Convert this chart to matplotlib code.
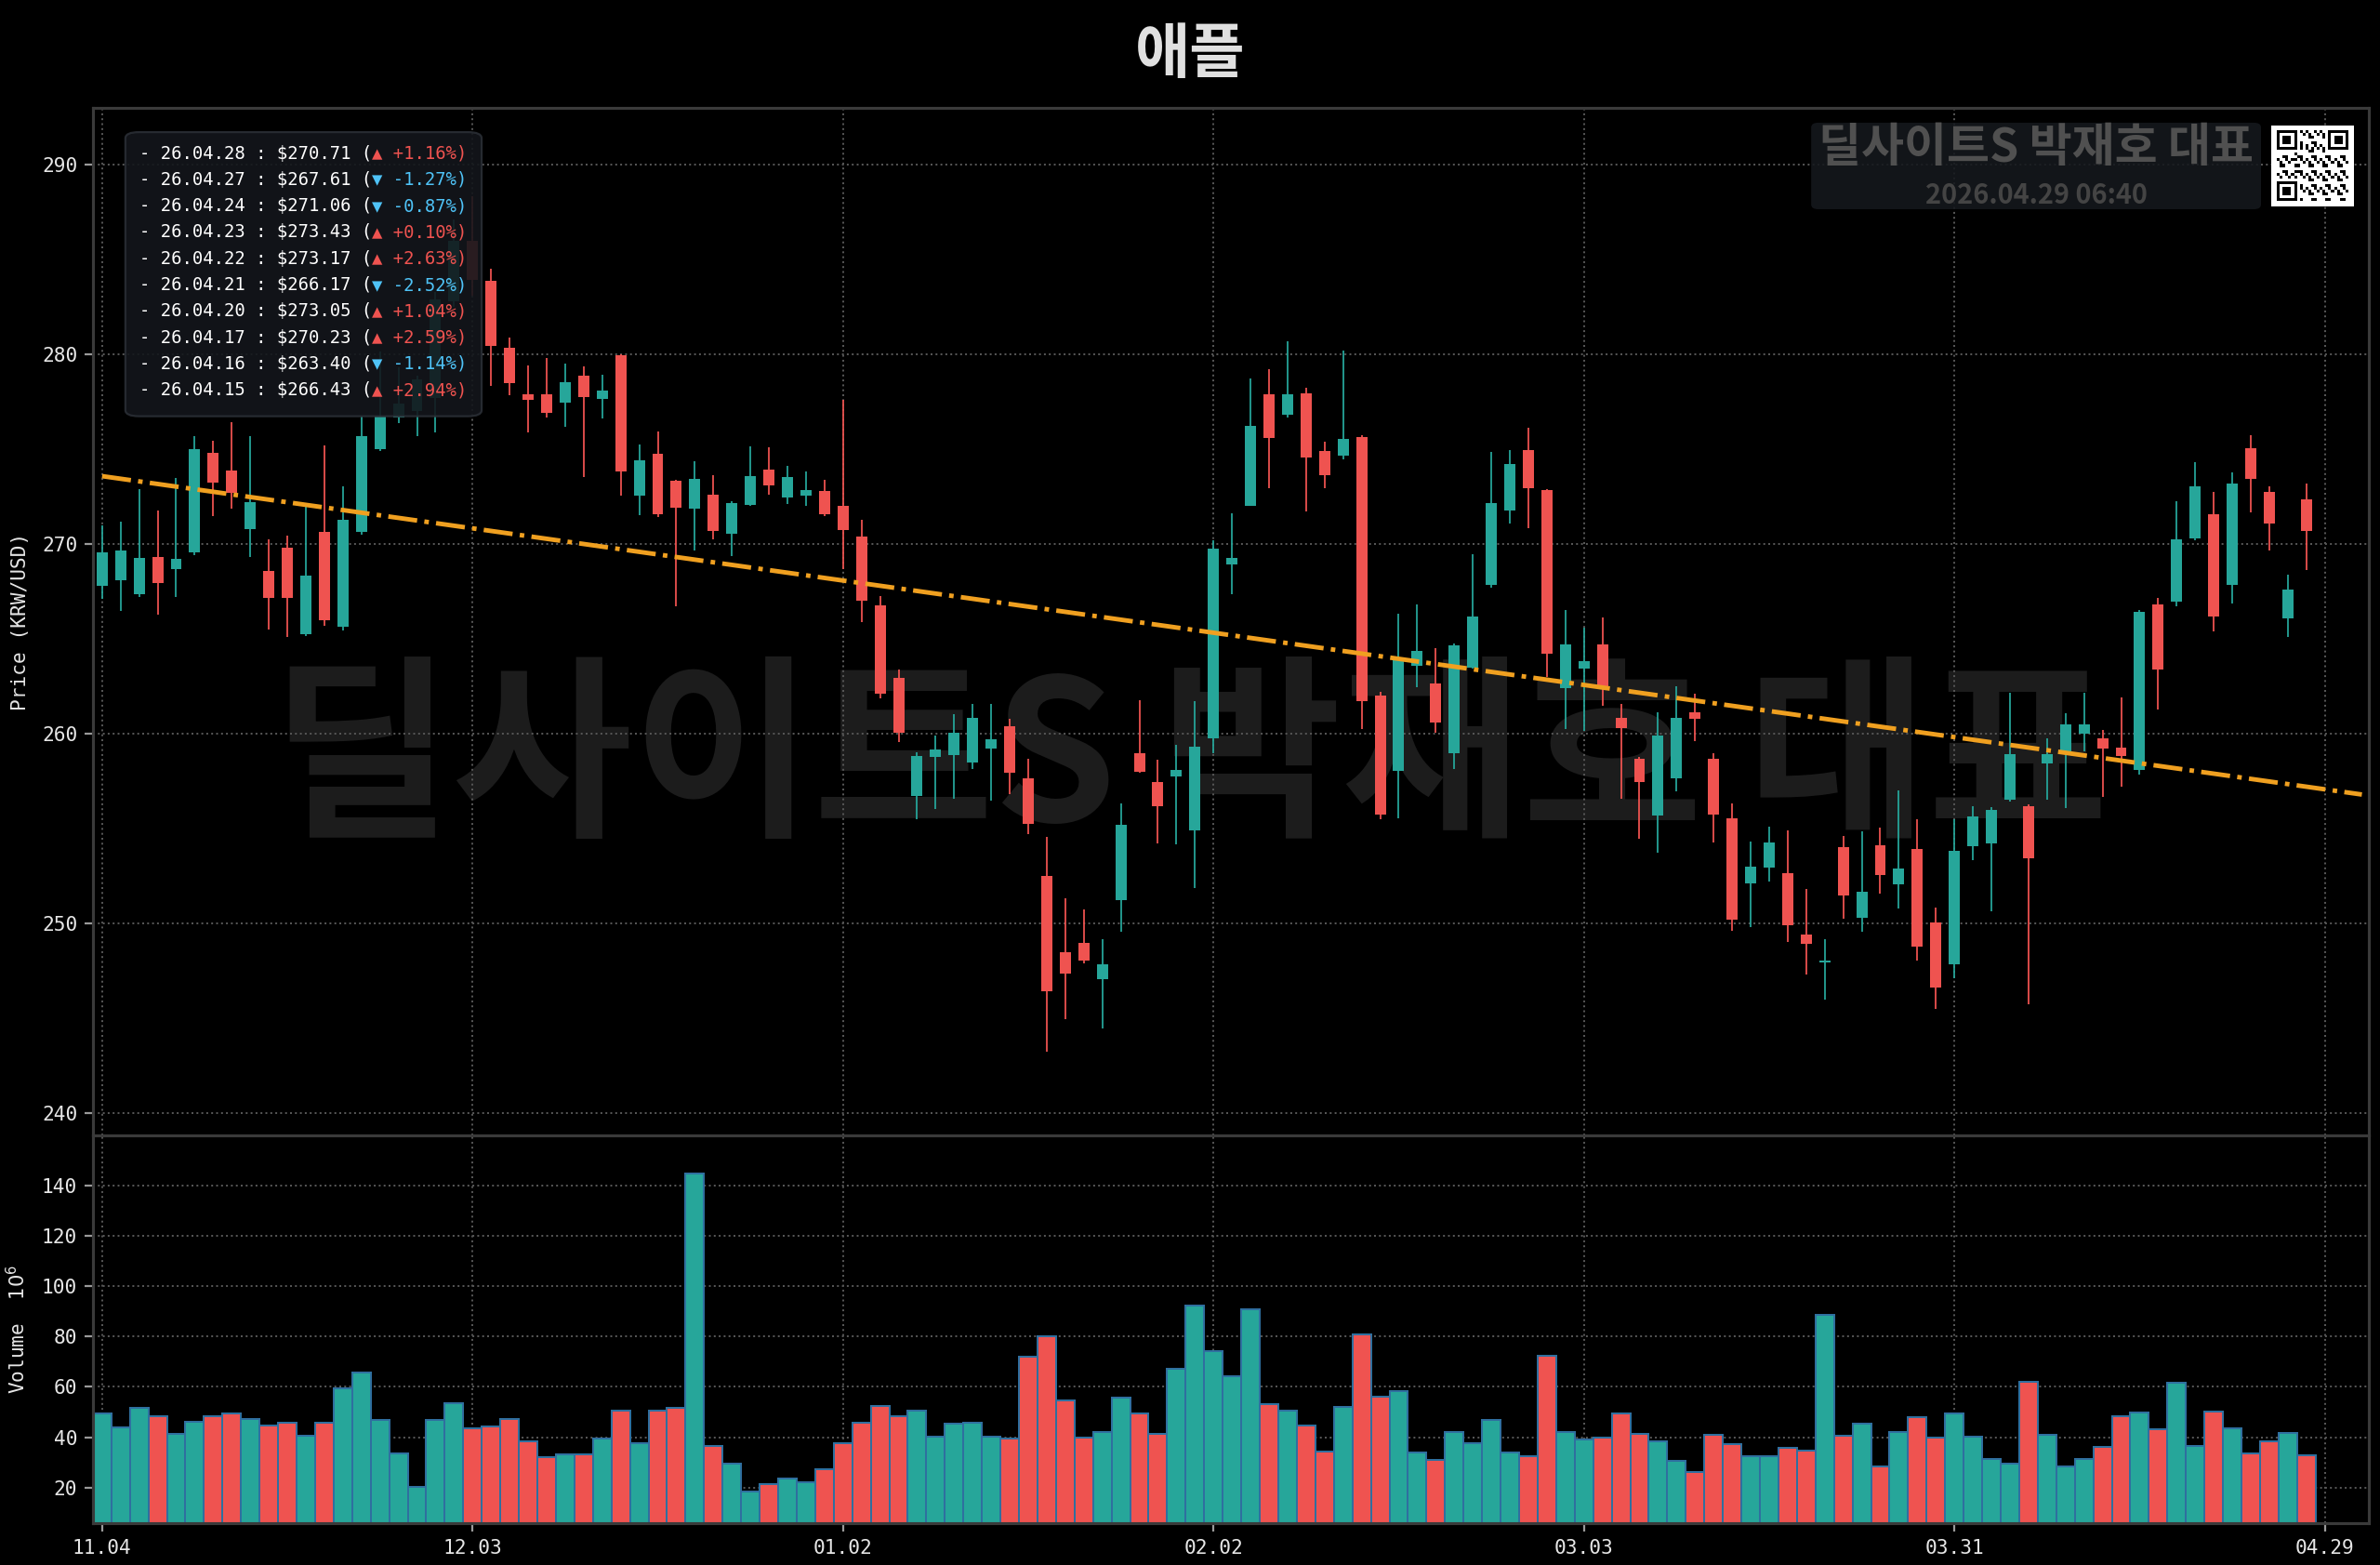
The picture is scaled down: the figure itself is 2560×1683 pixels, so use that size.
import numpy as np
import matplotlib
matplotlib.use("Agg")
import matplotlib.pyplot as plt
from matplotlib.patches import FancyBboxPatch

# ---- data ----
opens = [267.80, 268.07, 267.35, 269.30, 268.69, 269.54, 274.80, 273.90, 270.78, 268.60,
         269.79, 265.25, 270.62, 265.65, 270.62, 275.00, 276.68, 277.00, 277.70, 282.80,
         286.00, 283.89, 280.33, 277.92, 277.92, 277.47, 278.89, 277.63, 279.95, 272.53,
         274.78, 273.34, 271.87, 272.60, 270.56, 272.05, 273.92, 272.43, 272.53, 272.81,
         272.03, 270.38, 266.76, 262.96, 256.71, 258.78, 258.89, 258.46, 259.22, 260.38,
         257.65, 252.51, 248.48, 248.94, 247.06, 251.19, 258.96, 257.44, 257.72, 254.89,
         259.77, 268.94, 272.02, 277.90, 276.80, 277.95, 274.93, 274.66, 275.64, 262.03,
         258.05, 263.57, 262.66, 258.95, 263.48, 267.86, 271.76, 274.97, 272.85, 262.39,
         263.44, 264.69, 260.85, 258.68, 255.69, 257.63, 261.12, 258.68, 255.51, 252.10,
         252.91, 252.66, 249.41, 247.95, 254.02, 250.29, 254.13, 252.07, 253.92, 250.04,
         247.84, 254.06, 254.19, 256.49, 256.18, 258.42, 259.05, 259.97, 259.76, 259.24,
         258.10, 266.82, 266.94, 270.29, 271.55, 267.82, 275.07, 272.76, 266.06, 272.35]
highs = [271.00, 271.18, 272.90, 271.75, 273.46, 275.67, 275.47, 276.45, 275.70, 270.23,
         270.46, 271.96, 275.18, 273.06, 276.73, 280.16, 279.30, 278.90, 283.30, 287.10,
         288.35, 284.50, 280.90, 279.43, 279.80, 279.50, 279.35, 278.94, 280.00, 275.26,
         275.92, 273.40, 274.35, 273.65, 272.25, 275.16, 275.11, 274.10, 273.85, 273.39,
         277.60, 271.27, 267.27, 263.39, 258.99, 259.92, 261.01, 261.57, 261.57, 260.78,
         258.66, 254.53, 251.32, 250.73, 249.14, 256.30, 261.75, 258.61, 259.42, 261.70,
         270.21, 271.62, 278.71, 279.22, 280.67, 278.23, 275.38, 280.18, 275.73, 262.21,
         266.32, 266.80, 264.51, 264.74, 269.45, 274.88, 274.97, 276.11, 272.90, 266.50,
         265.59, 266.14, 261.58, 258.77, 261.12, 262.48, 262.12, 258.95, 256.33, 254.30,
         255.11, 254.90, 251.82, 249.16, 254.61, 254.82, 255.03, 257.00, 255.49, 250.84,
         255.49, 256.16, 256.12, 262.15, 256.25, 259.76, 261.08, 262.17, 260.18, 261.92,
         266.54, 267.15, 272.28, 274.34, 272.76, 273.77, 275.76, 273.04, 268.37, 273.18]
lows = [267.10, 266.47, 267.20, 266.27, 267.22, 269.40, 271.45, 271.86, 269.33, 265.50,
        265.10, 265.15, 265.67, 265.42, 270.50, 274.90, 276.40, 275.70, 275.90, 282.50,
        283.10, 278.33, 277.84, 275.90, 276.68, 276.20, 273.55, 276.60, 272.57, 271.50,
        271.44, 266.70, 269.67, 270.25, 269.34, 272.00, 272.58, 272.13, 272.03, 271.49,
        268.70, 265.87, 261.87, 259.54, 255.47, 256.00, 256.56, 258.15, 256.46, 256.81,
        254.68, 243.22, 244.94, 247.90, 244.43, 249.54, 257.95, 254.23, 254.15, 251.87,
        258.95, 267.37, 272.00, 272.96, 276.69, 271.71, 272.94, 274.48, 260.22, 255.46,
        255.55, 262.43, 260.04, 258.14, 263.42, 267.71, 271.08, 270.82, 262.97, 260.22,
        260.13, 261.45, 256.56, 254.43, 253.70, 256.96, 259.58, 254.24, 249.60, 249.80,
        252.18, 249.00, 247.28, 245.96, 250.25, 249.56, 251.55, 250.77, 248.05, 245.48,
        247.07, 253.33, 250.63, 256.40, 245.71, 256.53, 256.07, 259.05, 256.64, 257.20,
        257.83, 261.25, 266.73, 270.20, 265.39, 266.86, 271.65, 269.66, 265.08, 268.64]
closes = [269.54, 269.66, 269.28, 267.94, 269.22, 275.02, 273.22, 272.68, 272.19, 267.17,
          267.14, 268.35, 265.98, 271.26, 275.70, 276.73, 277.40, 278.70, 282.90, 286.00,
          283.95, 280.44, 278.50, 277.60, 276.90, 278.56, 277.76, 278.07, 273.84, 274.40,
          271.57, 271.90, 273.44, 270.70, 272.15, 273.57, 273.11, 273.52, 272.84, 271.57,
          270.73, 267.00, 262.08, 260.03, 258.84, 259.14, 260.03, 260.81, 259.72, 257.95,
          255.24, 246.43, 247.34, 248.03, 247.82, 255.19, 258.00, 256.18, 258.08, 259.29,
          269.77, 269.27, 276.24, 275.60, 277.90, 274.57, 273.65, 275.55, 261.70, 255.75,
          263.93, 264.38, 260.58, 264.65, 266.19, 272.16, 274.24, 272.92, 264.20, 264.72,
          263.80, 262.44, 260.27, 257.45, 259.91, 260.85, 260.76, 255.75, 250.20, 253.00,
          254.27, 249.90, 248.93, 248.00, 251.47, 251.68, 252.56, 252.87, 248.74, 246.59,
          253.81, 255.63, 255.95, 258.90, 253.43, 258.92, 260.47, 260.47, 259.19, 258.80,
          266.43, 263.40, 270.23, 273.05, 266.17, 273.17, 273.43, 271.06, 267.61, 270.71]
volumes = [49.6, 43.8, 51.5, 48.3, 41.4, 46.3, 48.5, 49.6, 47.4, 44.8,
           45.8, 40.6, 45.9, 59.3, 65.8, 47.0, 33.7, 20.2, 46.7, 53.7,
           43.6, 44.1, 47.3, 38.4, 32.1, 33.2, 33.2, 39.6, 50.6, 37.7,
           50.4, 51.7, 144.8, 36.7, 29.6, 18.3, 21.5, 23.7, 22.2, 27.2,
           37.7, 45.7, 52.5, 48.3, 50.5, 40.1, 45.3, 45.8, 40.1, 39.4,
           72.1, 80.2, 54.6, 39.8, 41.9, 55.9, 49.6, 41.4, 67.3, 92.5,
           74.1, 64.4, 90.7, 53.1, 50.6, 44.7, 34.3, 52.1, 81.0, 56.3,
           58.5, 34.1, 30.9, 42.2, 37.5, 47.0, 33.8, 32.5, 72.5, 41.9,
           39.0, 39.9, 49.6, 41.4, 38.4, 30.7, 26.3, 41.1, 37.2, 32.3,
           32.5, 35.9, 34.7, 88.5, 40.6, 45.3, 28.4, 42.0, 47.8, 39.8,
           49.6, 40.1, 31.4, 29.5, 62.2, 41.1, 28.5, 31.5, 36.3, 48.3,
           50.0, 43.3, 61.7, 36.7, 50.2, 43.4, 33.6, 38.4, 41.6, 33.0]

tick_pos = [0, 20, 40, 60, 80, 100, 120]
tick_labels = ["11.04", "12.03", "01.02", "02.02", "03.03", "03.31", "04.29"]

legend_dates = ["26.04.28", "26.04.27", "26.04.24", "26.04.23", "26.04.22",
                "26.04.21", "26.04.20", "26.04.17", "26.04.16", "26.04.15"]
legend_close = [270.71, 267.61, 271.06, 273.43, 273.17, 266.17, 273.05, 270.23, 263.40, 266.43]
legend_pct = [1.16, -1.27, -0.87, 0.10, 2.63, -2.52, 1.04, 2.59, -1.14, 2.94]

title = "애플"
brand = "딜사이트S 박재호 대표"
stamp = "2026.04.29 06:40"

UP = "#26a69a"
DOWN = "#ef5350"
PCT_UP = "#ef5350"
PCT_DOWN = "#4fc3f7"
MONO = ["DejaVu Sans Mono", "DejaVu Sans"]
KR = ["Noto Sans CJK KR", "DejaVu Sans"]

o = np.array(opens)
h = np.array(highs)
l = np.array(lows)
c = np.array(closes)
v = np.array(volumes)
x = np.arange(len(c))
cols = np.where(c >= o, UP, DOWN)

plt.rcParams["font.family"] = MONO

fig = plt.figure(figsize=(16, 10.51875), dpi=160, facecolor="black")
gs = fig.add_gridspec(2, 1, height_ratios=[1105, 417], hspace=0,
                      left=0.039, right=0.9955, top=0.931, bottom=0.0267)
ax = fig.add_subplot(gs[0])
axv = fig.add_subplot(gs[1], sharex=ax)

for a in (ax, axv):
    a.set_facecolor("black")
    for s in a.spines.values():
        s.set_color("#3a3a3a")
        s.set_linewidth(1.4)
    a.set_axisbelow(True)
    a.grid(True, linestyle=":", color="#555555", linewidth=0.9)
    a.tick_params(colors="#9a9a9a", labelcolor="#e6e6e6", labelsize=9.5,
                  length=4, width=1)

# candles
ax.vlines(x, l, h, colors=cols, linewidth=0.8, zorder=2)
body_h = np.maximum(np.abs(c - o), 0.08)
ax.bar(x, body_h, bottom=np.minimum(o, c), width=0.6, color=cols,
       linewidth=0, zorder=3)

# trend line from linear fit of closes
k, b0 = np.polyfit(x, c, 1)
tx = np.array([0, 122])
ax.plot(tx, k * tx + b0, color="#f0a020", linestyle="-.", linewidth=2.2, zorder=4)

ax.set_xlim(-0.5, 122.4)
ax.set_ylim(238.8, 293)
ax.set_yticks([240, 250, 260, 270, 280, 290])
ax.set_ylabel("Price (KRW/USD)", color="#e6e6e6", fontsize=9.5, labelpad=6)
ax.tick_params(axis="x", labelbottom=False)

# volume
axv.bar(x, v, width=1.0, color=cols, edgecolor="#2f6f9f", linewidth=0.9, zorder=2)
axv.set_ylim(5.8, 160)
axv.set_yticks([20, 40, 60, 80, 100, 120, 140])
axv.set_xticks(tick_pos)
axv.set_xticklabels(tick_labels)
axv.set_ylabel("Volume  $10^6$", color="#e6e6e6", fontsize=9.5, labelpad=6)

# big watermark
ax.text(0.5, 0.512, brand, transform=fig.transFigure, ha="center", va="center",
        fontsize=95, fontweight=900, family=KR, color="#1c1c1c", zorder=0.3)

# title
fig.text(0.5, 0.965, title, ha="center", va="center", fontsize=29,
         fontweight=900, family=KR, color="#e0e0e0")

# recent closes box
ax.add_patch(FancyBboxPatch((0.0143, 0.700), 0.1565, 0.2765, transform=ax.transAxes,
                            boxstyle="round,pad=0,rounding_size=0.006",
                            facecolor="#13161b", edgecolor="#2a2e35", linewidth=1,
                            alpha=0.9, zorder=5))
fs = 8.5
for n, (d, cl, p) in enumerate(zip(legend_dates, legend_close, legend_pct)):
    y = 0.9557 - n * 0.0256
    white = f"- {d} : ${cl:.2f} ("
    colored = ("▲" if p > 0 else "▼") + f" {p:+.2f}%)"
    ax.text(0.0204, y, white, transform=ax.transAxes, fontsize=fs, color="white",
            va="center", ha="left", family=MONO, zorder=6, parse_math=False)
    ax.annotate(colored, xy=(0.0204, y), xycoords="axes fraction",
                xytext=(len(white) * 0.602 * fs, 0), textcoords="offset points",
                fontsize=fs, color=PCT_UP if p > 0 else PCT_DOWN, va="center",
                ha="left", family=MONO, zorder=6)

# top-right brand box
fig.patches.append(FancyBboxPatch((0.761, 0.8663), 0.189, 0.0553,
                                  transform=fig.transFigure,
                                  boxstyle="round,pad=0,rounding_size=0.003",
                                  facecolor="#15181d", edgecolor="none", alpha=0.88,
                                  zorder=2))
fig.text(0.8555, 0.9055, brand, ha="center", va="center", fontsize=22.5,
         fontweight=900, family=KR, color="#505050", zorder=3)
fig.text(0.8555, 0.8755, stamp, ha="center", va="center", fontsize=13,
         fontweight="bold", family=KR, color="#444444", zorder=3)

# QR-like stamp
N = 25
qr = np.zeros((N, N))
for r in range(N):
    for cc in range(N):
        qr[r, cc] = 1 if (r * r * 3 + cc * 7 + r * cc) % 5 < 2 else 0
qr[6, :] = np.arange(N) % 2 == 0
qr[:, 6] = np.arange(N) % 2 == 0
for (r0, c0) in [(0, 0), (0, N - 7), (N - 7, 0)]:
    qr[max(r0 - 1, 0):r0 + 8, max(c0 - 1, 0):c0 + 8] = 0
    qr[r0:r0 + 7, c0:c0 + 7] = 1
    qr[r0 + 1:r0 + 6, c0 + 1:c0 + 6] = 0
    qr[r0 + 2:r0 + 5, c0 + 2:c0 + 5] = 1
qr = np.pad(qr, 2)
qax = fig.add_axes([0.9543, 0.8681, 0.0344, 0.0517], zorder=4)
qax.imshow(qr, cmap="gray_r", interpolation="nearest", aspect="auto")
qax.axis("off")

fig.savefig("out.png", dpi=160, facecolor="black")
